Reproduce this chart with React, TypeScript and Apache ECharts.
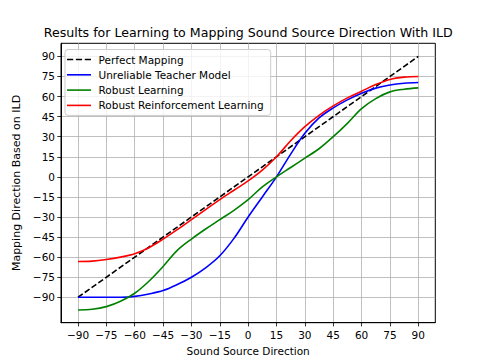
import React, { useEffect, useRef } from "react";
import * as echarts from "echarts";

const TITLE = "Results for Learning to Mapping Sound Source Direction With ILD";
const X_NAME = "Sound Source Direction";
const Y_NAME = "Mapping Direction Based on ILD";

const seriesNames = [
  "Perfect Mapping",
  "Unreliable Teacher Model",
  "Robust Learning",
  "Robust Reinforcement Learning",
];

const tickValues = [-90, -75, -60, -45, -30, -15, 0, 15, 30, 45, 60, 75, 90];

const perfectX = [-90, 90];
const perfectY = [-90, 90];

const xValues = [
  -90, -82.5, -75, -67.5, -60, -52.5, -45, -37.5, -30, -22.5, -15, -7.5, 0,
  7.5, 15, 22.5, 30, 37.5, 45, 52.5, 60, 67.5, 75, 82.5, 90,
];

const teacher = [
  -90, -90, -90, -90, -89.3, -87.5, -85, -80.5, -75, -68, -59, -46, -30, -15,
  0, 17, 32.5, 44, 51.5, 57.5, 62.5, 66.3, 68.7, 70, 70.5,
];

const robust = [
  -99.5, -99, -97, -93, -87, -78, -67, -55, -46.5, -39, -32, -25, -17, -7.5, 0,
  7, 14, 21, 30, 40, 51, 58.5, 63.5, 65.5, 66.5,
];

const reinforcement = [
  -63.3, -63, -61.8, -60, -57.5, -53, -46.5, -39.5, -32, -24.5, -17, -10, -3,
  5, 15, 27, 37.5, 46, 53, 59, 64, 69, 72.8, 74.5, 75,
];

const colors = ["#000000", "#0000ff", "#008000", "#ff0000"];

const SOLID_ICON = "path://M0,0H24V1.6H0Z";
const DASH_ICON =
  "path://M0,0H6.3V1.6H0Z M9,0H15.3V1.6H9Z M18,0H24.3V1.6H18Z";

export default function App() {
  const ref = useRef<HTMLDivElement>(null);
  useEffect(() => {
    const chart = echarts.init(ref.current as HTMLDivElement, null, {
      renderer: "svg",
    });
    const font = "DejaVu Sans";
    const fmt = (v: number) => String(v).replace("-", "\u2212");
    const pairs = (ys: number[]) => xValues.map((x, i) => [x, ys[i]]);
    const axisCommon = {
      type: "value",
      axisLine: { show: true, onZero: false, lineStyle: { color: "#000", width: 1 } },
      axisTick: {
        show: true,
        inside: false,
        length: 3.7,
        customValues: tickValues,
        lineStyle: { color: "#000", width: 0.8 },
      },
      axisLabel: {
        customValues: tickValues,
        formatter: fmt,
        color: "#000",
        fontSize: 10.5,
        fontFamily: font,
      },
      splitLine: { show: true, lineStyle: { color: "#b0b0b0", width: 0.8 } },
      nameLocation: "middle",
      nameTextStyle: { color: "#000", fontSize: 10.5, fontFamily: font },
    };
    chart.setOption({
      animation: false,
      backgroundColor: "#ffffff",
      graphic: [
        {
          type: "text",
          x: 248.2,
          y: 32.7,
          style: {
            text: TITLE,
            fill: "#000",
            font: `12.6px "${font}"`,
            textAlign: "center",
            textVerticalAlign: "middle",
          },
        },
      ],
      grid: {
        left: 61,
        right: 48.7,
        top: 43.3,
        bottom: 40.3,
        show: true,
        borderColor: "#000",
        borderWidth: 1,
        backgroundColor: "transparent",
      },
      legend: {
        orient: "vertical",
        left: 65,
        top: 49.5,
        itemWidth: 24,
        itemHeight: 12,
        itemGap: 3.3,
        padding: [4, 7, 4, 2],
        backgroundColor: "rgba(255,255,255,0.8)",
        borderColor: "#cccccc",
        borderWidth: 1,
        borderRadius: 3,
        textStyle: {
          fontFamily: font,
          fontSize: 10.5,
          color: "#000",
          lineHeight: 12,
          padding: [0, 0, 0, 2.5],
        },
        data: seriesNames.map((name, i) => ({
          name,
          icon: i === 0 ? DASH_ICON : SOLID_ICON,
          itemStyle: { color: colors[i] },
        })),
      },
      xAxis: {
        ...axisCommon,
        min: -99,
        max: 99,
        name: X_NAME,
        nameGap: 21,
        axisLabel: { ...axisCommon.axisLabel, margin: 7 },
      },
      yAxis: {
        ...axisCommon,
        min: -109,
        max: 99.8,
        name: Y_NAME,
        nameGap: 29,
        nameTextStyle: { ...axisCommon.nameTextStyle, fontSize: 11 },
        axisLabel: { ...axisCommon.axisLabel, margin: 6 },
      },
      series: [
        {
          name: seriesNames[0],
          type: "line",
          symbol: "none",
          data: perfectX.map((x, i) => [x, perfectY[i]]),
          lineStyle: { color: colors[0], width: 1.6, type: [5.8, 2.5] },
          itemStyle: { color: colors[0] },
        },
        {
          name: seriesNames[1],
          type: "line",
          symbol: "none",
          smooth: 0.35,
          data: pairs(teacher),
          lineStyle: { color: colors[1], width: 1.6 },
          itemStyle: { color: colors[1] },
        },
        {
          name: seriesNames[2],
          type: "line",
          symbol: "none",
          smooth: 0.35,
          data: pairs(robust),
          lineStyle: { color: colors[2], width: 1.6 },
          itemStyle: { color: colors[2] },
        },
        {
          name: seriesNames[3],
          type: "line",
          symbol: "none",
          smooth: 0.35,
          data: pairs(reinforcement),
          lineStyle: { color: colors[3], width: 1.6 },
          itemStyle: { color: colors[3] },
        },
      ],
    });
    return () => chart.dispose();
  }, []);
  return (
    <div
      ref={ref}
      style={{ position: "absolute", left: 0, top: 0, width: 484, height: 363 }}
    />
  );
}
